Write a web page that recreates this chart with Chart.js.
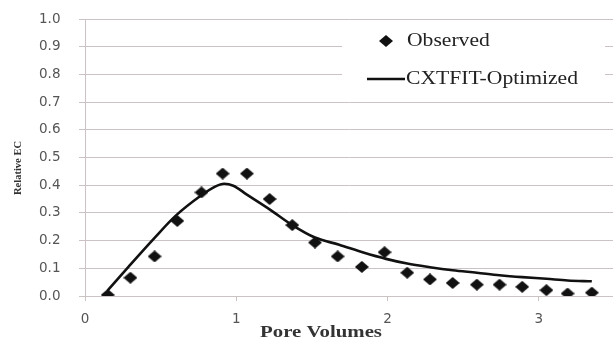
<!DOCTYPE html>
<html><head><meta charset="utf-8">
<script src="https://cdn.jsdelivr.net/npm/chart.js@4"></script>
<style>html,body{margin:0;padding:0;background:#fff}#wrap{width:613px;height:341px}</style>
</head><body><div id="wrap"><canvas id="c" width="613" height="341"></canvas></div>
<script>
const obsX = [0.15,0.30,0.46,0.61,0.77,0.91,1.07,1.22,1.37,1.52,1.67,1.83,1.98,2.13,2.28,2.43,2.59,2.74,2.89,3.05,3.19,3.35];
const obsY = [0.004,0.066,0.143,0.271,0.374,0.442,0.442,0.350,0.256,0.193,0.143,0.105,0.158,0.084,0.060,0.047,0.041,0.041,0.033,0.021,0.009,0.012];
const fitX = [0.15,0.29,0.46,0.60,0.76,0.86,0.92,0.98,1.07,1.22,1.37,1.52,1.68,1.84,1.99,2.13,2.28,2.43,2.59,2.74,2.89,3.05,3.19,3.35];
const fitY = [0.02,0.107,0.21,0.29,0.36,0.395,0.405,0.398,0.366,0.313,0.256,0.211,0.185,0.157,0.134,0.117,0.104,0.093,0.084,0.075,0.068,0.062,0.056,0.053];
const xTicks = [0,1,2,3];
const seriesLabels = ['Observed','CXTFIT-Optimized'];
const xTitle = 'Pore Volumes';
const yTitle = 'Relative EC';

// diamond marker
const dia = document.createElement('canvas');
dia.width = 14; dia.height = 12;
(function(){const g=dia.getContext('2d');g.fillStyle='#111';g.beginPath();g.moveTo(0,6);g.lineTo(7,0);g.lineTo(14,6);g.lineTo(7,12);g.closePath();g.fill();})();

const grid = '#cbc3c3';
const tickFont = {family:'DejaVu Sans', size:13.5};

const extras = {
  id:'extras',
  afterDraw(chart){
    const ctx = chart.ctx;
    ctx.save();
    // legend box
    ctx.fillStyle='#fff';
    ctx.fillRect(342,23,263,75);
    ctx.drawImage(dia,379,35);
    ctx.strokeStyle='#111'; ctx.lineWidth=2.6;
    ctx.beginPath(); ctx.moveTo(367,79); ctx.lineTo(405,79); ctx.stroke();
    ctx.fillStyle='#222'; ctx.textBaseline='middle'; ctx.textAlign='left';
    ctx.font='18px "Liberation Serif"';
    const items=[[407,41,chart.data.datasets[0].label],[406,79,chart.data.datasets[1].label]];
    items.forEach(([x,y,t])=>{ctx.save();ctx.translate(x,y);ctx.scale(1.2,1);ctx.fillText(t,0,0);ctx.restore();});
    // x title
    ctx.save(); ctx.translate(321,333); ctx.scale(1.3,1);
    ctx.font='bold 16px "Liberation Serif"'; ctx.textAlign='center'; ctx.fillStyle='#333';
    ctx.fillText(xTitle,0,0); ctx.restore();
    // y title
    ctx.save(); ctx.translate(18,168); ctx.rotate(-Math.PI/2);
    ctx.font='bold 10.5px "Liberation Serif"'; ctx.textAlign='center'; ctx.fillStyle='#333';
    ctx.fillText(yTitle,0,0); ctx.restore();
    ctx.restore();
  }
};

new Chart(document.getElementById('c'), {
  type:'scatter',
  data:{datasets:[
    {label:seriesLabels[0], data:obsX.map((x,i)=>({x,y:obsY[i]})), pointStyle:dia, pointRadius:6, showLine:false, order:1},
    {label:seriesLabels[1], data:fitX.map((x,i)=>({x,y:fitY[i]})), showLine:true, pointRadius:0, borderColor:'#111', borderWidth:2.6, cubicInterpolationMode:'monotone', order:2}
  ]},
  options:{
    responsive:false, animation:false,
    layout:{autoPadding:false, padding:{top:19,right:0,left:39,bottom:0}},
    plugins:{legend:{display:false}, tooltip:{enabled:false}},
    scales:{
      x:{type:'linear', min:0, max:3.49,
        afterBuildTicks(s){s.ticks = xTicks.map(v=>({value:v}));},
        afterFit(s){s.height=45;},
        grid:{drawOnChartArea:false, drawTicks:true, tickLength:5, color:grid},
        border:{color:grid},
        ticks:{font:tickFont, color:'#555', padding:10, maxRotation:0, callback:v=>String(v)}},
      y:{min:0, max:1,
        afterFit(s){s.width=46;},
        grid:{color:grid, tickLength:6},
        border:{color:grid},
        ticks:{stepSize:0.1, font:tickFont, color:'#555', padding:2, crossAlign:'far', callback:v=>v.toFixed(1)}}
    }
  },
  plugins:[extras]
});
</script></body></html>
